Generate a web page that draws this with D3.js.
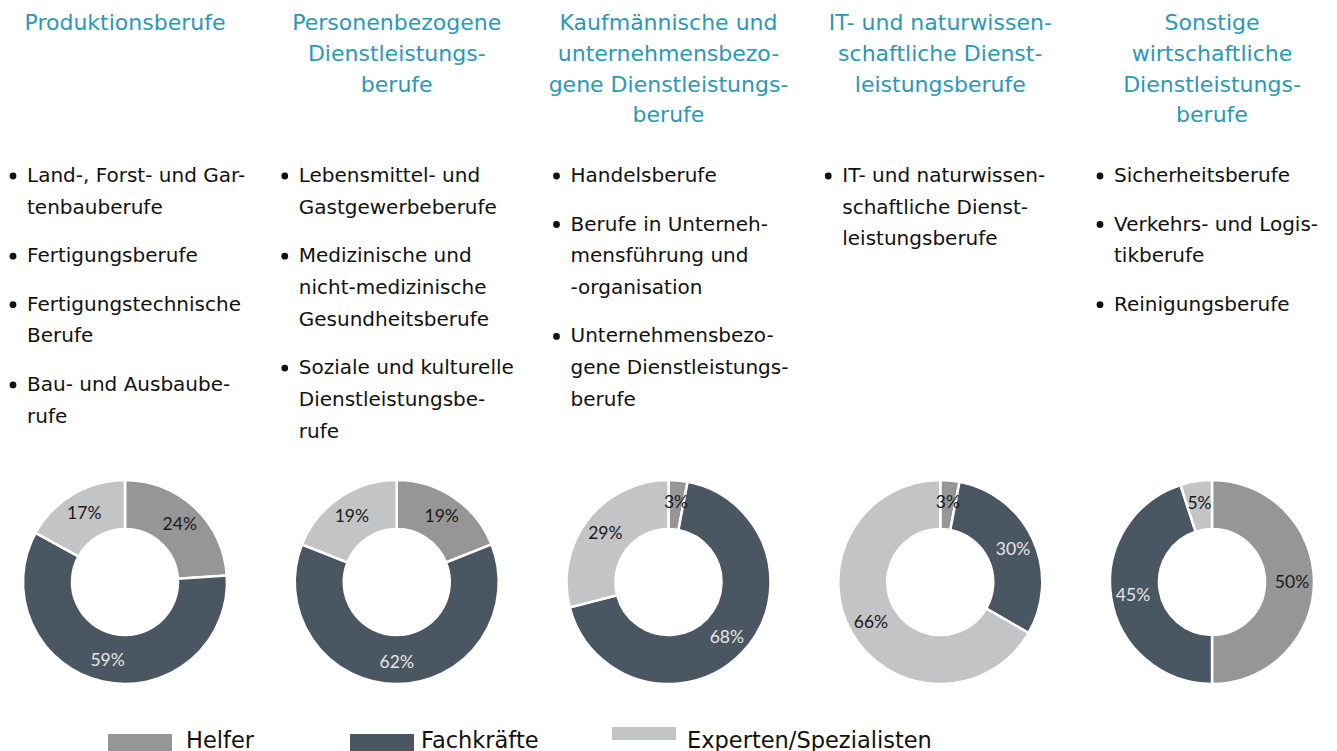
<!DOCTYPE html>
<html>
<head>
<meta charset="utf-8">
<script src="https://cdn.jsdelivr.net/npm/d3@7"></script>
<style>
  body { margin: 0; background: #fff; }
  svg { display: block; }
</style>
</head>
<body>
<div class="chart"></div>
<script>
// column titles (line breaks as in the original)
let titles = [
    ["Produktionsberufe"],
    ["Personenbezogene", "Dienstleistungs-", "berufe"],
    ["Kaufmännische und", "unternehmensbezo-", "gene Dienstleistungs-", "berufe"],
    ["IT- und naturwissen-", "schaftliche Dienst-", "leistungsberufe"],
    ["Sonstige", "wirtschaftliche", "Dienstleistungs-", "berufe"]
];

let bullets = [
    [["Land-, Forst- und Gar-", "tenbauberufe"], ["Fertigungsberufe"], ["Fertigungstechnische", "Berufe"], ["Bau- und Ausbaube-", "rufe"]],
    [["Lebensmittel- und", "Gastgewerbeberufe"], ["Medizinische und", "nicht-medizinische", "Gesundheitsberufe"], ["Soziale und kulturelle", "Dienstleistungsbe-", "rufe"]],
    [["Handelsberufe"], ["Berufe in Unterneh-", "mensführung und", "-organisation"], ["Unternehmensbezo-", "gene Dienstleistungs-", "berufe"]],
    [["IT- und naturwissen-", "schaftliche Dienst-", "leistungsberufe"]],
    [["Sicherheitsberufe"], ["Verkehrs- und Logis-", "tikberufe"], ["Reinigungsberufe"]]
];

let seriesNames = ["Helfer", "Fachkräfte", "Experten/Spezialisten"];
let helfer = [24, 19, 3, 3, 50];
let fachkraefte = [59, 62, 68, 30, 45];
let experten = [17, 19, 29, 66, 5];

let w = 1337;
let h = 751;
let colors = ["#969696", "#4a5762", "#c3c4c6"];
let labelColors = ["#1a1a1a", "#e6e6e6", "#1a1a1a"];
let headFont = "'DejaVu Sans', Verdana, sans-serif";
let pctFont = "Lato, 'Open Sans', sans-serif";

let xScale = d3.scalePoint()
    .domain(d3.range(titles.length))
    .range([125, 1212]);

let color = d3.scaleOrdinal().domain(seriesNames).range(colors);

const svg = d3.select(".chart")
    .append("svg")
    .attr("width", w)
    .attr("height", h);

// titles
titles.forEach((lines, i) => {
    svg.append("text")
        .attr("x", xScale(i))
        .attr("y", 30)
        .attr("text-anchor", "middle")
        .attr("fill", "#2b98b6")
        .style("font-family", headFont)
        .style("font-size", "22px")
        .selectAll("tspan")
        .data(lines)
        .enter()
        .append("tspan")
        .attr("x", xScale(i))
        .attr("dy", (d, k) => k == 0 ? 0 : 30.8)
        .text(d => d);
});

// bullet lists
let lineH = 31.7;
let bulletGap = 48.5;
bullets.forEach((items, i) => {
    let y = 182;
    items.forEach((lines) => {
        svg.append("circle")
            .attr("cx", xScale(i) - 112)
            .attr("cy", y - 6)
            .attr("r", 3.4)
            .attr("fill", "#111");
        lines.forEach((line, k) => {
            svg.append("text")
                .attr("x", xScale(i) - 98)
                .attr("y", y + k * lineH)
                .attr("fill", "#111")
                .style("font-family", headFont)
                .style("font-size", "20px")
                .text(line);
        });
        y += (lines.length - 1) * lineH + bulletGap;
    });
});

// donuts
let rOut = 102;
let rIn = 53;
let pie = d3.pie().sort(null).value(d => d.value).startAngle(0).endAngle(2 * Math.PI);
let arc = d3.arc().innerRadius(rIn).outerRadius(rOut);
let labelArc = d3.arc().innerRadius(80).outerRadius(80);

titles.forEach((t, i) => {
    let vals = [helfer[i], fachkraefte[i], experten[i]].map((v, k) => ({ name: seriesNames[k], value: v, k: k }));
    let g = svg.append("g")
        .attr("transform", "translate(" + xScale(i) + ", 582)");
    let arcs = pie(vals);
    g.selectAll("path")
        .data(arcs)
        .enter()
        .append("path")
        .attr("d", arc)
        .attr("fill", d => color(d.data.name))
        .attr("stroke", "#fff")
        .attr("stroke-width", 2.5);
    g.selectAll("text")
        .data(arcs)
        .enter()
        .append("text")
        .attr("transform", d => "translate(" + labelArc.centroid(d) + ")")
        .attr("text-anchor", "middle")
        .attr("dy", "0.35em")
        .attr("fill", d => labelColors[d.data.k])
        .style("font-family", pctFont)
        .style("font-size", "17.5px")
        .text(d => d.data.value + "%");
});

// legend
let legendX = [108, 350, 612];
let legendY = [734, 734, 727];
let legendTextX = [186, 421, 687];
seriesNames.forEach((name, k) => {
    svg.append("rect")
        .attr("x", legendX[k])
        .attr("y", legendY[k])
        .attr("width", 64)
        .attr("height", k == 2 ? 13 : 18)
        .attr("fill", color(name));
    svg.append("text")
        .attr("x", legendTextX[k])
        .attr("y", 748)
        .attr("fill", "#111")
        .style("font-family", headFont)
        .style("font-size", "22.5px")
        .text(name);
});
</script>
</body>
</html>
